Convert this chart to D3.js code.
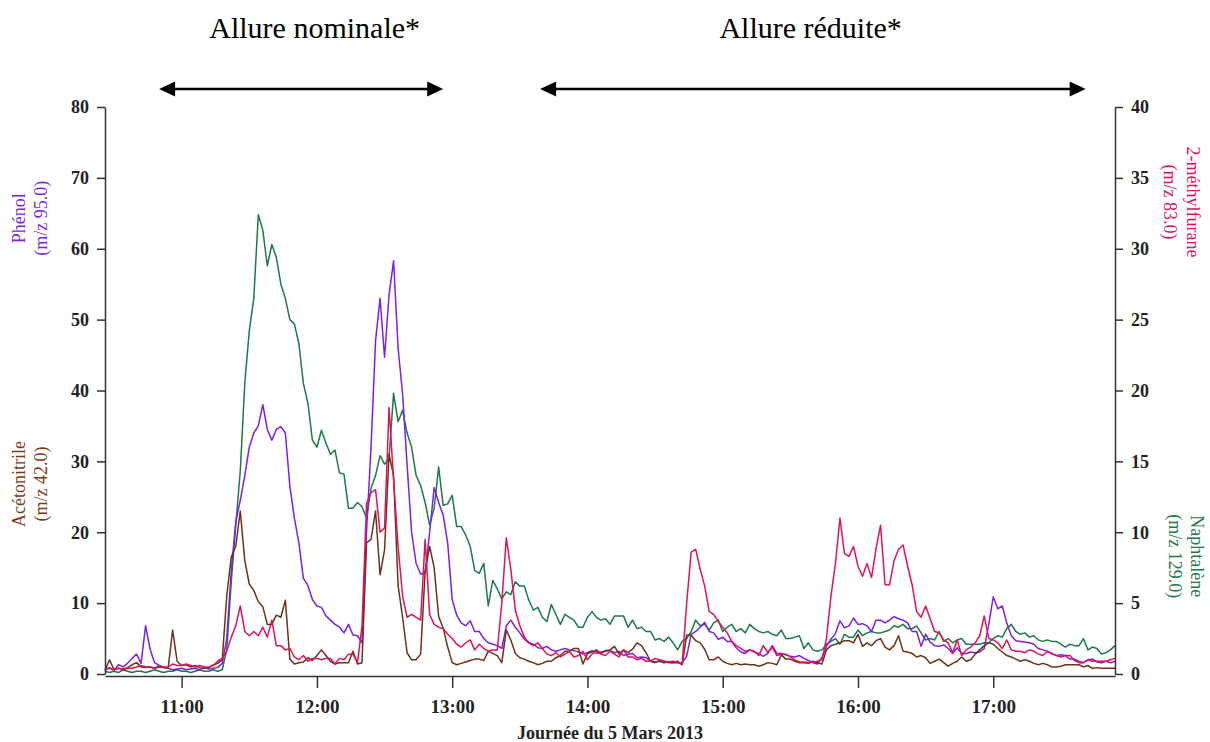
<!DOCTYPE html>
<html>
<head>
<meta charset="utf-8">
<script src="https://cdn.jsdelivr.net/npm/d3@7"></script>
<style>
  body { margin: 0; background: #fff; }
  svg { font-family: "Liberation Serif", "DejaVu Serif", serif; }
</style>
</head>
<body>
<div id="chart"></div>
<script>
// sampling grid: one reading every 2 minutes from 10:26
const startTime = "10:26";
const stepMinutes = 2;

// Phénol (m/z 95.0) - left axis
const phenol = [
  0.6, 0.9, 0.5, 1.3, 1.0, 1.5, 2.2, 2.8, 1.5, 6.8,
  3.5, 1.6, 1.2, 0.9, 0.8, 0.6, 0.7, 0.8, 0.6, 0.7,
  0.8, 0.6, 0.9, 0.7, 0.8, 0.9, 1.5, 5.0, 14.5, 21.5,
  24.5, 28, 32, 34, 35, 38, 34.5, 33, 34.5, 34.9,
  34, 26.5, 22, 18.5, 13.5, 12.5, 10.5, 9.6, 9.4, 8.2,
  7.6, 7.0, 6.6, 5.8, 7.0, 5.5, 5.4, 4.4, 20, 32,
  47, 53, 44.7, 53.5, 58.3, 46, 39.5, 29.5, 20, 15.6,
  14.1, 14.2, 20, 26.3, 24.2, 22.4, 18.5, 10.5, 8.3, 7.2,
  6.8, 7.5, 6.0, 6.0, 5.0, 4.4, 4.2, 4.0, 3.6, 6.8,
  7.6, 6.6, 5.8, 4.9, 4.4, 4.2, 3.7, 3.6, 3.9, 3.4,
  3.2, 3.4, 3.6, 3.4, 3.3, 3.1, 2.8, 3.0, 3.3, 2.9,
  3.1, 3.2, 3.3, 3.0, 3.2, 2.6, 2.8, 2.9, 2.3, 2.4,
  2.3, 1.8, 1.6, 1.9, 1.8, 1.6, 1.6, 1.6, 1.6, 2.5,
  5.6, 6.0, 6.6, 7.3, 6.0, 5.8, 4.9, 5.2, 4.6, 4.6,
  3.7, 3.1, 2.9, 3.4, 3.1, 2.9, 2.5, 2.9, 4.0, 2.9,
  2.9, 2.7, 2.5, 2.4, 2.6, 2.2, 1.9, 1.6, 1.4, 2.3,
  3.9, 4.9, 5.7, 7.5, 6.5, 6.8, 7.9, 7.0, 7.1, 6.8,
  6.0, 7.6, 7.6, 7.2, 7.6, 8.1, 7.8, 7.6, 7.2, 6.0,
  6.0, 3.9, 5.6, 4.5, 4.0, 3.9, 4.1, 3.6, 2.9, 3.7,
  2.9, 2.9, 3.1, 3.0, 3.1, 3.6, 7.0, 10.9, 9.2, 9.6,
  7.2, 5.4, 4.7, 4.6, 4.5, 4.4, 4.2, 3.6, 3.4, 3.2,
  2.9, 2.6, 2.7, 2.6, 2.1, 2.1, 1.8, 1.6, 2.0, 2.1,
  1.7, 1.6, 1.8, 1.6, 1.8
];

// Acétonitrile (m/z 42.0) - left axis
const acetonitrile = [
  0.5, 2.0, 0.6, 0.8, 0.7, 0.9, 1.3, 1.6, 1.0, 0.9,
  1.0, 0.8, 1.0, 0.9, 0.8, 6.2, 1.8, 1.2, 1.3, 1.0,
  1.2, 0.9, 0.8, 0.9, 1.3, 1.5, 2.0, 11, 16.5, 18,
  23.0, 16, 12.7, 11.8, 10.2, 9.5, 7, 7.0, 8.3, 8.0,
  10.4, 2.1, 1.4, 1.6, 1.7, 2.3, 1.9, 2.6, 3.4, 2.6,
  1.8, 1.4, 1.6, 1.6, 1.6, 3.2, 1.4, 1.6, 18.5, 19,
  23, 14, 17.5, 31, 28, 12.5, 8.0, 3.0, 2.0, 2.0,
  2.8, 14.5, 18, 15, 8.1, 6.5, 3.8, 1.6, 1.3, 1.5,
  1.7, 1.9, 2.1, 2.1, 1.9, 3.2, 2.9, 2.6, 1.6, 6.2,
  4.8, 2.9, 2.3, 2.1, 1.8, 1.6, 1.3, 1.5, 1.8, 1.8,
  2.3, 2.6, 3.2, 3.2, 3.6, 3.6, 1.4, 2.9, 3.1, 3.4,
  2.9, 3.3, 3.4, 3.9, 2.8, 3.4, 3.0, 3.5, 4.4, 4.0,
  3.0, 1.8, 1.7, 1.8, 1.6, 1.7, 1.6, 1.8, 1.3, 5.5,
  5.5, 4.7, 4.4, 3.5, 2.0, 2.0, 2.4, 1.8, 1.5, 1.3,
  1.5, 1.3, 1.4, 1.3, 1.3, 1.1, 1.3, 1.6, 1.5, 1.3,
  2.7, 2.1, 2.1, 1.8, 1.6, 1.6, 1.5, 1.8, 1.6, 1.4,
  3.4, 4.0, 4.2, 4.4, 4.7, 4.7, 4.4, 5.6, 3.9, 4.4,
  4.0, 4.7, 5.0, 3.8, 3.4, 4.0, 5.4, 3.2, 3.1, 2.9,
  2.4, 2.6, 2.3, 1.5, 1.8, 2.1, 1.6, 1.1, 1.5, 1.8,
  2.4, 1.8, 2.0, 2.8, 3.4, 4.0, 4.4, 4.2, 3.6, 3.1,
  2.6, 2.4, 2.1, 1.8, 2.0, 1.8, 1.5, 1.3, 1.5, 1.3,
  1.0, 1.0, 1.1, 1.3, 1.3, 1.3, 1.3, 1.0, 1.2, 0.8,
  0.9, 0.8, 0.8, 0.8, 0.8
];

// 2-méthylfurane (m/z 83.0) - right axis
const methylfurane = [
  0.3, 0.4, 0.3, 0.4, 0.3, 0.4, 0.4, 0.5, 0.6, 0.5,
  0.5, 0.4, 0.6, 0.5, 0.5, 0.7, 0.6, 0.6, 0.7, 0.6,
  0.5, 0.6, 0.5, 0.5, 0.6, 0.9, 1.1, 1.6, 2.6, 3.4,
  4.8, 3.0, 2.7, 3.0, 2.7, 3.3, 2.6, 3.8, 2.0, 2.0,
  1.7, 1.8, 1.2, 1.0, 1.3, 0.9, 1.1, 1.1, 1.0, 1.1,
  1.1, 0.7, 1.1, 1.0, 1.4, 1.4, 0.8, 3.4, 12.0, 12.8,
  13.0, 10.0, 10.3, 18.8, 13.7, 9.0, 5.5, 4.0, 4.2, 4.0,
  3.8, 9.5, 4.2, 3.5, 3.3, 3.2, 2.8, 2.5, 2.1, 1.9,
  2.2, 2.4, 1.7, 2.1, 1.8, 1.6, 1.7, 1.7, 5.0, 9.6,
  7.4, 4.5, 3.4, 2.6, 2.2, 2.0, 2.2, 1.8, 1.4, 1.3,
  1.5, 1.2, 1.4, 1.6, 1.2, 1.3, 1.6, 1.0, 1.4, 1.6,
  1.4, 1.3, 1.6, 1.4, 1.2, 1.7, 1.2, 1.2, 1.0, 1.1,
  0.9, 0.9, 1.1, 1.0, 0.9, 0.85, 0.9, 0.8, 0.7, 5.0,
  8.6, 8.8, 7.4, 6.2, 4.4, 4.2, 3.7, 3.3, 2.9, 2.3,
  2.0, 1.8, 1.6, 1.7, 1.6, 1.3, 2.0, 1.5, 1.9, 1.3,
  1.4, 1.4, 1.2, 1.0, 0.85, 0.85, 0.8, 0.85, 0.9, 1.0,
  2.5, 5.5, 7.8, 11.0, 8.5, 8.3, 9.0, 7.6, 6.9, 7.8,
  6.8, 8.85, 10.5, 6.3, 6.3, 8.0, 8.8, 9.1, 7.6, 6.3,
  4.4, 4.0, 4.8, 3.9, 3.0, 2.9, 2.4, 2.2, 1.5, 2.4,
  1.3, 1.7, 1.9, 2.2, 2.7, 4.1, 2.5, 2.4, 2.2, 1.8,
  2.4, 1.7, 1.6, 1.6, 1.5, 1.7, 1.6, 1.4, 1.3, 1.6,
  1.4, 1.3, 1.2, 1.3, 1.3, 0.95, 0.8, 0.8, 1.0, 0.9,
  0.9, 0.9, 0.9, 1.0, 1.1
];

// Naphtalène (m/z 129.0) - right axis
const naphtalene = [
  0.2, 0.1, 0.2, 0.1, 0.3, 0.2, 0.1, 0.2, 0.2, 0.1,
  0.2, 0.3, 0.2, 0.1, 0.2, 0.2, 0.3, 0.2, 0.2, 0.1,
  0.2, 0.3, 0.2, 0.2, 0.3, 0.2, 0.3, 1.7, 6.5, 10.5,
  14.3, 20.5, 24.2, 26.5, 32.4, 31.3, 28.8, 30.3, 29.4, 27.5,
  26.5, 25, 24.7, 23.3, 20.5, 19.1, 16.5, 16.0, 17.2, 16.3,
  15.5, 15.8, 14.2, 14.1, 11.7, 11.7, 12.1, 11.8, 11.0, 13.1,
  14, 15.4, 14.8, 15.2, 19.8, 17.8, 18.6, 17.0, 16, 14.0,
  13.3, 12.1, 10.5, 11.7, 14.6, 11.9, 12.0, 12.6, 10.4, 10.4,
  9.8, 9.0, 7.3, 7.1, 7.8, 4.8, 6.6, 6.0, 5.3, 5.8,
  5.6, 6.5, 6.2, 6.2, 5.2, 4.5, 4.7, 4.0, 3.7, 4.9,
  4.2, 3.5, 4.2, 4.0, 3.8, 3.3, 3.3, 4.0, 4.4, 4.0,
  3.8, 3.9, 3.5, 4.1, 4.1, 4.1, 3.3, 3.8, 3.2, 3.3,
  3.0, 3.0, 2.4, 2.5, 2.3, 2.6, 2.2, 1.7, 2.3, 2.5,
  3.0, 3.8, 3.4, 3.5, 3.1, 3.6, 3.8, 3.0, 3.3, 3.5,
  3.0, 3.2, 2.9, 3.5, 3.2, 3.0, 2.9, 3.0, 2.8, 2.7,
  3.1, 2.5, 2.5, 2.6, 2.7, 1.8, 2.2, 1.7, 1.6, 1.7,
  2.1, 2.3, 2.5, 2.1, 2.8, 2.6, 2.6, 3.1, 2.7, 2.9,
  3.0, 2.9, 2.9, 3.0, 3.1, 3.4, 3.3, 3.5, 3.2, 3.2,
  3.4, 2.9, 2.4, 2.5, 2.4, 3.0, 2.3, 2.5, 2.2, 2.4,
  2.5, 2.1, 2.1, 2.1, 2.1, 2.2, 2.2, 2.5, 2.7, 2.6,
  3.2, 3.5, 3.0, 2.8, 2.9, 2.6, 2.7, 2.4, 2.3, 2.4,
  2.3, 2.3, 2.1, 1.9, 2.1, 2.0, 2.0, 2.5, 1.7, 1.9,
  1.8, 1.4, 1.5, 1.7, 2.0
];

const leftTicks = [0, 10, 20, 30, 40, 50, 60, 70, 80];
const rightTicks = [0, 5, 10, 15, 20, 25, 30, 35, 40];
const hourTicks = ["11:00", "12:00", "13:00", "14:00", "15:00", "16:00", "17:00"];
const timeDomain = ["10:26", "17:54"];

// operating phases shown above the plot
const phaseLabels = ["Allure nominale*", "Allure réduite*"];
const phaseStart = ["10:50", "13:39"];
const phaseEnd = ["12:56", "17:41"];
const phaseLabelAt = ["11:59", "15:39"];

const series = [
  { name: "Naphtalène", values: naphtalene, axis: "right", color: "#1b7a48" },
  { name: "Phénol", values: phenol, axis: "left", color: "#7d1fe6" },
  { name: "Acétonitrile", values: acetonitrile, axis: "left", color: "#6b3414" },
  { name: "2-méthylfurane", values: methylfurane, axis: "right", color: "#e0125e" }
];

const parseTime = d3.timeParse("%H:%M");
const t0 = parseTime(startTime);
const times = phenol.map((d, i) => d3.timeMinute.offset(t0, i * stepMinutes));

const width = 1210, height = 742;
const margin = {top: 107, right: 95, bottom: 68, left: 105};

const svg = d3.select("#chart").append("svg")
  .attr("width", width)
  .attr("height", height);

const x = d3.scaleTime()
  .domain(timeDomain.map(parseTime))
  .range([margin.left, width - margin.right]);

const yLeft = d3.scaleLinear()
  .domain([0, 80])
  .range([height - margin.bottom, margin.top]);

const yRight = d3.scaleLinear()
  .domain([0, 40])
  .range([height - margin.bottom, margin.top]);

// lines
series.forEach(s => {
  const y = s.axis === "left" ? yLeft : yRight;
  svg.append("path")
    .datum(s.values)
    .attr("fill", "none")
    .attr("stroke", s.color)
    .attr("stroke-width", 1.5)
    .attr("stroke-linejoin", "round")
    .attr("d", d3.line()
      .x((d, i) => x(times[i]))
      .y(d => y(d)));
});

// axes
const axisColor = "#333";

const gLeft = svg.append("g")
  .attr("transform", `translate(${margin.left},0)`)
  .call(d3.axisLeft(yLeft).tickValues(leftTicks).tickSize(8).tickSizeOuter(0).tickPadding(8));

const gRight = svg.append("g")
  .attr("transform", `translate(${width - margin.right},0)`)
  .call(d3.axisRight(yRight).tickValues(rightTicks).tickSize(8).tickSizeOuter(0).tickPadding(8));

const gBottom = svg.append("g")
  .attr("transform", `translate(0,${height - margin.bottom + 2})`)
  .call(d3.axisBottom(x)
    .tickValues(hourTicks.map(parseTime))
    .tickFormat(d3.timeFormat("%H:%M"))
    .tickSize(12).tickSizeOuter(0).tickPadding(12));

[gLeft, gRight, gBottom].forEach(g => {
  g.selectAll("path, line").attr("stroke", axisColor).attr("stroke-width", 1.5);
  g.selectAll("text")
    .attr("fill", "#222")
    .style("font-size", "18px")
    .style("font-weight", "bold")
    .style("font-family", "'Liberation Serif', serif");
});
gBottom.selectAll("text").style("font-size", "19px");

// x axis title
svg.append("text")
  .attr("x", (margin.left + width - margin.right) / 2)
  .attr("y", 739)
  .attr("text-anchor", "middle")
  .style("font-size", "18px")
  .style("font-weight", "bold")
  .attr("fill", "#222")
  .text("Journée du 5 Mars 2013");

// rotated axis titles
function sideLabel(lines, cx, cy, rot, color) {
  const g = svg.append("g").attr("fill", color).style("font-size", "18px");
  lines.forEach((txt, i) => {
    g.append("text")
      .attr("transform", `translate(${cx[i]},${cy}) rotate(${rot})`)
      .attr("text-anchor", "middle")
      .text(txt);
  });
}
sideLabel(["Phénol", "(m/z 95.0)"], [25, 47], yLeft(64.3), -90, "#7d1fe6");
sideLabel(["Acétonitrile", "(m/z 42.0)"], [25, 47], yLeft(26.8), -90, "#7a3a16");
sideLabel(["2-méthylfurane", "(m/z 83.0)"], [1187, 1164], yRight(33.3), 90, "#e0125e");
sideLabel(["Naphtalène", "(m/z 129.0)"], [1191, 1169], yRight(8.3), 90, "#1b7a48");

// phase arrows and labels
const arrowY = 89, headLen = 16, headHalf = 7.5;
phaseLabels.forEach((lab, i) => {
  const x1 = x(parseTime(phaseStart[i])), x2 = x(parseTime(phaseEnd[i]));
  svg.append("line")
    .attr("x1", x1 + headLen - 2).attr("x2", x2 - headLen + 2)
    .attr("y1", arrowY).attr("y2", arrowY)
    .attr("stroke", "#000").attr("stroke-width", 2.6);
  svg.append("path")
    .attr("d", `M${x1},${arrowY} L${x1 + headLen},${arrowY - headHalf} L${x1 + headLen},${arrowY + headHalf} Z`)
    .attr("fill", "#000");
  svg.append("path")
    .attr("d", `M${x2},${arrowY} L${x2 - headLen},${arrowY - headHalf} L${x2 - headLen},${arrowY + headHalf} Z`)
    .attr("fill", "#000");
  svg.append("text")
    .attr("x", x(parseTime(phaseLabelAt[i])))
    .attr("y", 38)
    .attr("text-anchor", "middle")
    .style("font-size", "30px")
    .attr("fill", "#000")
    .text(lab);
});
</script>
</body>
</html>
